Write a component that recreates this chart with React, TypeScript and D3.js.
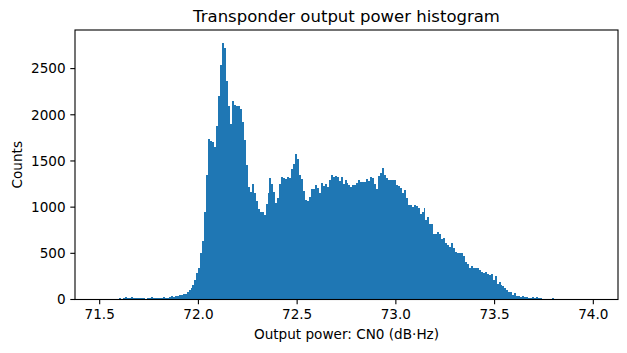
import React, { useEffect, useRef } from 'react';
import * as d3 from 'd3';

// Histogram bins: 0.01 dB·Hz wide, starting at 71.5
const binStart = 71.5;
const binWidth = 0.01;
const counts = [
  0, 0, 5, 0, 0, 0, 5, 5, 8, 8,
  15, 8, 12, 22, 15, 15, 22, 15, 15, 15,
  15, 15, 15, 8, 12, 15, 22, 15, 15, 15,
  15, 15, 22, 15, 15, 22, 33, 25, 43, 36,
  50, 45, 55, 60, 80, 100, 125, 160, 210, 290,
  340, 503, 634, 946, 1348, 1743, 1717, 1707, 1656, 1880,
  2207, 2536, 2779, 2725, 2362, 2090, 1902, 2149, 2110, 2100,
  2090, 2065, 1920, 1728, 1457, 1221, 1167, 1246, 1149, 1065,
  978, 942, 942, 913, 1029, 1149, 1312, 1246, 1159, 1040,
  1094, 1246, 1322, 1312, 1301, 1330, 1315, 1410, 1467, 1576,
  1522, 1348, 1301, 1174, 1076, 1065, 1112, 1196, 1196, 1239,
  1203, 1156, 1264, 1228, 1250, 1221, 1293, 1348, 1330, 1337,
  1323, 1283, 1323, 1250, 1293, 1260, 1235, 1221, 1239, 1239,
  1257, 1293, 1268, 1272, 1272, 1304, 1283, 1330, 1319, 1250,
  1196, 1340, 1373, 1420, 1348, 1315, 1293, 1293, 1293, 1293,
  1239, 1228, 1203, 1156, 1185, 1094, 1022, 1022, 1004, 1022,
  1011, 986, 931, 949, 986, 859, 888, 822, 822, 714,
  707, 728, 714, 652, 663, 616, 587, 569, 616, 562,
  514, 505, 504, 500, 467, 402, 380, 341, 359, 341,
  341, 344, 315, 293, 286, 293, 272, 261, 272, 207,
  250, 163, 188, 152, 141, 127, 98, 80, 76, 54,
  70, 33, 43, 22, 33, 22, 22, 11, 11, 22,
  11, 22, 11, 11, 6, 6, 6, 6, 6, 11,
  6, 6, 6, 0, 0, 0, 0, 0, 0, 0,
  0, 0, 0, 0, 0, 0, 0, 0, 0, 0
];
const xTicks = [71.5, 72.0, 72.5, 73.0, 73.5, 74.0];
const yTicks = [0, 500, 1000, 1500, 2000, 2500];

const FONT = '"DejaVu Sans", sans-serif';

const App = () => {
  const chartRef = useRef<SVGSVGElement | null>(null);

  useEffect(() => {
    if (!chartRef.current) return;
    const svgRoot = d3.select(chartRef.current);
    svgRoot.selectAll('*').remove();

    const width = 627;
    const height = 353;
    const margin = { top: 30, right: 9, bottom: 53.5, left: 75 };
    const innerWidth = width - margin.left - margin.right;
    const innerHeight = height - margin.top - margin.bottom;

    const bins = counts.map((c, i) => ({
      x0: binStart + i * binWidth,
      x1: binStart + (i + 1) * binWidth,
      count: c
    }));
    const lo = bins[0].x0;
    const hi = bins[bins.length - 1].x1;
    const pad = (hi - lo) * 0.05;

    const xScale = d3.scaleLinear().domain([lo - pad, hi + pad]).range([0, innerWidth]);
    const yMax = (d3.max(counts) as number) * 1.05;
    const yScale = d3.scaleLinear().domain([0, yMax]).range([innerHeight, 0]);

    const svg = svgRoot.append('g').attr('transform', `translate(${margin.left}, ${margin.top})`);

    // bars, crisp so neighbouring bars don't show seams
    svg.selectAll('.bar')
      .data(bins.filter(d => d.count > 0))
      .enter()
      .append('rect')
      .attr('class', 'bar')
      .attr('x', d => xScale(d.x0))
      .attr('width', d => xScale(d.x1) - xScale(d.x0))
      .attr('y', d => yScale(d.count))
      .attr('height', d => innerHeight - yScale(d.count))
      .attr('fill', '#1f77b4')
      .attr('shape-rendering', 'crispEdges');

    // frame
    svg.append('rect')
      .attr('width', innerWidth)
      .attr('height', innerHeight)
      .attr('fill', 'none')
      .attr('stroke', '#000')
      .attr('stroke-width', 1.1);

    const tickLen = 4.7;

    // x axis
    const xAxis = svg.append('g').attr('transform', `translate(0, ${innerHeight})`);
    xTicks.forEach(t => {
      const x = xScale(t);
      xAxis.append('line')
        .attr('x1', x).attr('x2', x)
        .attr('y1', 0).attr('y2', tickLen)
        .attr('stroke', '#000').attr('stroke-width', 1.1);
      xAxis.append('text')
        .attr('x', x)
        .attr('y', tickLen + 4.7 + 10.2)
        .attr('text-anchor', 'middle')
        .style('font-family', FONT)
        .style('font-size', '13.6px')
        .style('fill', '#000')
        .text(d3.format('.1f')(t));
    });

    // y axis
    const yAxis = svg.append('g');
    yTicks.forEach(t => {
      const y = yScale(t);
      yAxis.append('line')
        .attr('x1', -tickLen).attr('x2', 0)
        .attr('y1', y).attr('y2', y)
        .attr('stroke', '#000').attr('stroke-width', 1.1);
      yAxis.append('text')
        .attr('x', -tickLen - 4.7)
        .attr('y', y)
        .attr('dy', '0.36em')
        .attr('text-anchor', 'end')
        .style('font-family', FONT)
        .style('font-size', '13.6px')
        .style('fill', '#000')
        .text(String(t));
    });

    // axis labels
    svg.append('text')
      .attr('x', innerWidth / 2)
      .attr('y', innerHeight + 39.5)
      .attr('text-anchor', 'middle')
      .style('font-family', FONT)
      .style('font-size', '13.6px')
      .style('fill', '#000')
      .text('Output power: CN0 (dB·Hz)');

    svg.append('text')
      .attr('transform', `translate(${22 - margin.left}, ${innerHeight / 2}) rotate(-90)`)
      .attr('text-anchor', 'middle')
      .style('font-family', FONT)
      .style('font-size', '13.6px')
      .style('fill', '#000')
      .text('Counts');

    // title
    svg.append('text')
      .attr('x', innerWidth / 2)
      .attr('y', -8.3)
      .attr('text-anchor', 'middle')
      .style('font-family', FONT)
      .style('font-size', '16.5px')
      .style('fill', '#000')
      .text('Transponder output power histogram');
  }, []);

  return (
    <div style={{ position: 'absolute', left: 0, top: 0, background: '#fff' }}>
      <svg ref={chartRef} width={627} height={353} style={{ display: 'block' }} />
    </div>
  );
};

export default App;
